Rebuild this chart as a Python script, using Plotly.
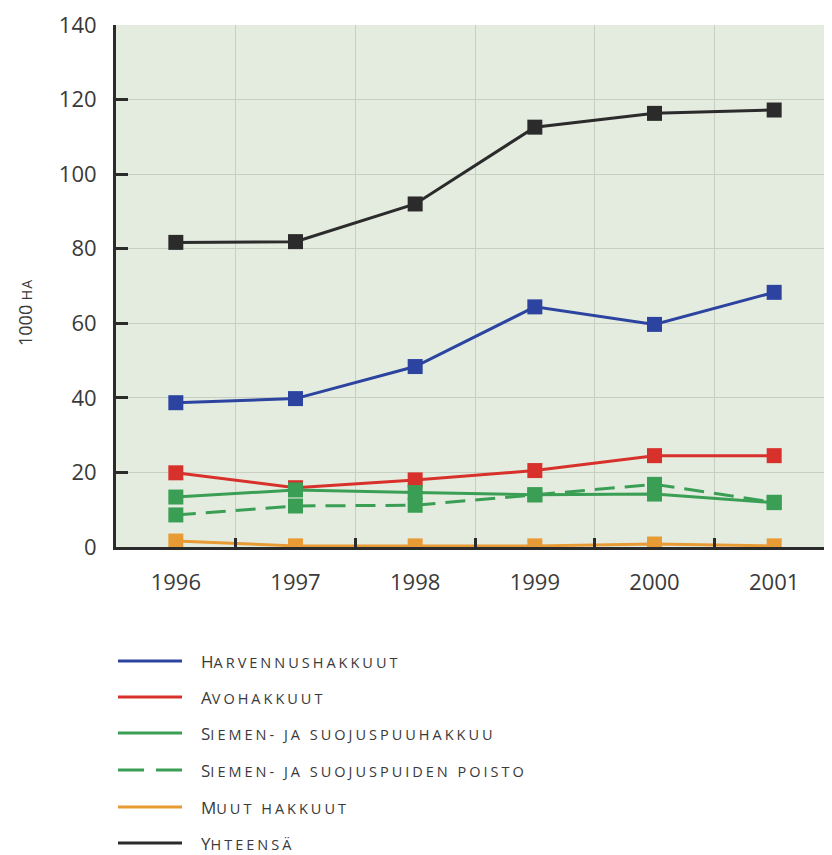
import plotly.graph_objects as go

years = [1996, 1997, 1998, 1999, 2000, 2001]
harvennus = [38.7, 39.8, 48.4, 64.4, 59.7, 68.3]
avo = [19.9, 15.9, 18.0, 20.5, 24.5, 24.5]
siemen = [13.4, 15.3, 14.6, 14.0, 14.2, 11.9]
poisto = [8.6, 11.0, 11.2, 14.0, 16.8, 12.0]
muut = [1.6, 0.3, 0.3, 0.3, 0.8, 0.3]
yhteensa = [81.7, 81.9, 92.0, 112.6, 116.3, 117.2]
y_ticks = [0, 20, 40, 60, 80, 100, 120, 140]

names = ["Harvennushakkuut", "Avohakkuut", "Siemen- ja suojuspuuhakkuu",
         "Siemen- ja suojuspuiden poisto", "Muut hakkuut", "Yhteensä"]
colors = ["#2c44a0", "#d8312b", "#3a9f55", "#3a9f55", "#e89a35", "#2b2b2b"]
dashes = ["solid", "solid", "solid", "20px,10px", "solid", "solid"]
values = [harvennus, avo, siemen, poisto, muut, yhteensa]
draw_order = [5, 0, 1, 2, 3, 4]

TEXT = "#3a3a3a"


def smallcaps(s, small=14.5, spacing=3):
    return (s[0].upper() +
            '<span style="font-size:%spx;letter-spacing:%dpx">%s</span>'
            % (small, spacing, s[1:].upper()))


fig = go.Figure()
for i in draw_order:
    fig.add_trace(go.Scatter(
        x=years, y=values[i], mode="lines+markers", name=names[i],
        line=dict(color=colors[i], width=3, dash=dashes[i]),
        marker=dict(symbol="square", size=15, color=colors[i]),
        showlegend=False, hoverinfo="skip"))

# manual legend (plot area: screen x 116..834, y 25..547)
PX0, PW, PY0, PH = 116, 718, 25, 522
def xp(px):
    return (px - PX0) / PW
def yp(py):
    return (PY0 + PH - py) / PH

rows = [661, 697, 733, 770, 807, 843]
shapes = []
annotations = []
for i, nm in enumerate(names):
    shapes.append(dict(type="line", xref="paper", yref="paper",
                       x0=xp(118), x1=xp(182), y0=yp(rows[i]), y1=yp(rows[i]),
                       line=dict(color=colors[i], width=3,
                                 dash="26px,12px" if dashes[i] != "solid" else "solid")))
    annotations.append(dict(text=smallcaps(nm), xref="paper", yref="paper",
                            x=xp(199), y=yp(rows[i]), xanchor="left", yanchor="middle",
                            showarrow=False, font=dict(size=17, color=TEXT)))

annotations.append(dict(text="1000 " + '<span style="font-size:14px;letter-spacing:1px">HA</span>',
                        xref="paper", yref="paper", x=xp(25), y=yp(313),
                        xanchor="center", yanchor="middle",
                        textangle=-90, showarrow=False,
                        font=dict(size=18, color=TEXT)))

fig.update_layout(
    width=826, height=847,
    margin=dict(l=108, r=0, t=17, b=308),
    paper_bgcolor="white",
    plot_bgcolor="#e4ece0",
    font=dict(family="Open Sans", color=TEXT, size=16),
    showlegend=False,
    shapes=shapes,
    annotations=annotations,
)

fig.update_xaxes(
    range=[1995.5, 2001.5],
    tickvals=years, ticktext=[str(y) for y in years],
    ticks="", ticklabelstandoff=14,
    showgrid=False, zeroline=False,
    showline=True, linecolor="#2b2b2b", linewidth=3,
    tickfont=dict(size=22, color=TEXT),
    minor=dict(tickvals=[1996.5, 1997.5, 1998.5, 1999.5, 2000.5],
               showgrid=True, gridcolor="#c6cfc1", gridwidth=1,
               ticks="inside", ticklen=9, tickwidth=3, tickcolor="#2b2b2b"),
)
fig.update_yaxes(
    range=[0, 140], tickvals=y_ticks,
    ticks="inside", ticklen=12, tickwidth=3, tickcolor="#2b2b2b",
    ticklabelstandoff=12,
    showgrid=True, gridcolor="#c6cfc1", gridwidth=1,
    zeroline=False,
    showline=True, linecolor="#2b2b2b", linewidth=3,
    tickfont=dict(size=22, color=TEXT),
)

fig.write_html("out.html")
